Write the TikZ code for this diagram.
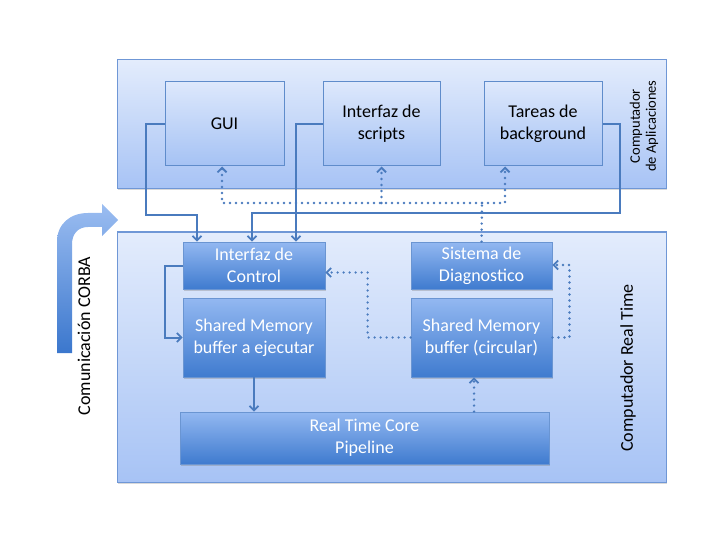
\documentclass[tikz,border=0pt]{standalone}
\usepackage{fontspec}
\setmainfont{Carlito}
\usetikzlibrary{arrows.meta,shadows}
\definecolor{lineblue}{HTML}{4A7BBE}
\definecolor{contborder}{HTML}{6F97D6}
\definecolor{contlight}{HTML}{E3ECFC}
\definecolor{contdark}{HTML}{A7C3F5}
\definecolor{topborder}{HTML}{5F8CCB}
\definecolor{toplight}{HTML}{DDE8FC}
\definecolor{topdark}{HTML}{A5C2F4}
\definecolor{blkborder}{HTML}{6A95D2}
\definecolor{blklight}{HTML}{93B8F1}
\definecolor{blkdark}{HTML}{3F7BCF}
\definecolor{corbalight}{HTML}{9BBDF1}
\definecolor{corbamid}{HTML}{6C9BE0}
\definecolor{corbadark}{HTML}{3B77CD}
\tikzset{
  container/.style={draw=contborder, line width=1pt, top color=contlight, bottom color=contdark,
    drop shadow={shadow xshift=1pt, shadow yshift=-1.5pt, opacity=0.3}},
  topbox/.style={draw=topborder, line width=1pt, top color=toplight, bottom color=topdark,
    align=center, font=\fontsize{18}{22}\selectfont, inner sep=0pt},
  blk/.style={draw=blkborder, line width=0.8pt, top color=blklight, bottom color=blkdark,
    text=white, align=center, font=\fontsize{18}{22}\selectfont, inner sep=0pt,
    drop shadow={shadow xshift=1pt, shadow yshift=-1.5pt, opacity=0.35}},
  conn/.style={draw=lineblue, line width=2pt},
  connarrow/.style={conn, -{Straight Barb[length=4.5pt,width=9pt,line width=1.8pt]}},
  dotline/.style={draw=lineblue, line width=2.7pt, line cap=round, dash pattern=on 0pt off 6pt},
  dotarrow/.style={dotline, -{Straight Barb[length=4.5pt,width=9pt,line width=1.8pt]}},
  lbl/.style={font=\fontsize{18}{22}\selectfont, rotate=90}
}
\begin{document}
\begin{tikzpicture}[x=1pt,y=-1pt]
\useasboundingbox (0,0) rectangle (720,540);
% containers
\node[container, minimum width=549pt, minimum height=129pt] (topC) at (391.5,124.5) {};
\node[container, minimum width=549pt, minimum height=250pt] (botC) at (391.5,357) {};
% container labels
\node[lbl, font=\fontsize{14.5}{16}\selectfont, align=center] (lblApp) at (644,126) {Computador\\de Aplicaciones};
\node[lbl] (lblRT) at (628,368) {Computador Real Time};
% top boxes
\node[topbox, minimum width=119pt, minimum height=84pt] (gui) at (224.5,124) {GUI};
\node[topbox, minimum width=117pt, minimum height=84pt] (scripts) at (381.5,124) {Interfaz de\\scripts};
\node[topbox, minimum width=118pt, minimum height=84pt] (tareas) at (543,124) {Tareas de\\background};
% bottom blocks
\node[blk, minimum width=142pt, minimum height=47pt] (ictl) at (254,265.5) {Interfaz de\\Control};
\node[blk, minimum width=142pt, minimum height=79pt] (smej) at (254,337.5) {Shared Memory\\buffer a ejecutar};
\node[blk, minimum width=141pt, minimum height=47pt] (diag) at (481.5,265.5) {Sistema de\\Diagnostico};
\node[blk, minimum width=141pt, minimum height=79pt] (smcirc) at (481.5,337.5) {Shared Memory\\buffer (circular)};
\node[blk, minimum width=369pt, minimum height=52pt] (rtc) at (364.5,438) {Real Time Core\\Pipeline};
% CORBA arrow
\shade[top color=corbalight, middle color=corbamid, bottom color=corbadark, draw=none] (57,353) -- (57,242)
  .. controls (57,224) and (70,213) .. (88,213) -- (102,213) -- (102,204) -- (118,220)
  -- (102,236) -- (102,227) -- (88,227) .. controls (78,227) and (72,234) .. (72,244)
  -- (72,353) -- cycle;
\node[lbl] (lblCorba) at (84,336) {Comunicación CORBA};
% solid connectors
\coordinate (g1) at (146,215);
\draw[connarrow] (gui.west) -| (g1) -| ([xshift=-57pt]ictl.north);
\draw[connarrow] (scripts.west) -| ([xshift=42pt]ictl.north);
\coordinate (t1) at (620,213);
\draw[connarrow] (tareas.east) -| (t1) -| ([xshift=-2pt]ictl.north);
\draw[connarrow] (ictl.west) -- ++(-18,0) |- (smej.west);
\draw[connarrow] (smej.south) -- (smej.south |- rtc.north);
% dotted connectors
\coordinate (d0) at (482,203);
\draw[dotline] (diag.north) -- (d0);
\draw[dotarrow] (d0) -| ([xshift=-38pt]tareas.south);
\draw[dotarrow] (d0) -| ([xshift=-2.5pt]gui.south);
\draw[dotarrow] (scripts.south |- d0) -- (scripts.south);
\draw[dotarrow] ([xshift=-7.5pt]smcirc.south |- rtc.north) -- ([xshift=-7.5pt]smcirc.south);
\draw[dotarrow] (smcirc.west) -- ++(-43,0) |- ([yshift=-7pt]ictl.east);
\draw[dotarrow] (smcirc.east) -- ++(17,0) |- ([yshift=0.5pt]diag.east);
\end{tikzpicture}
\end{document}
